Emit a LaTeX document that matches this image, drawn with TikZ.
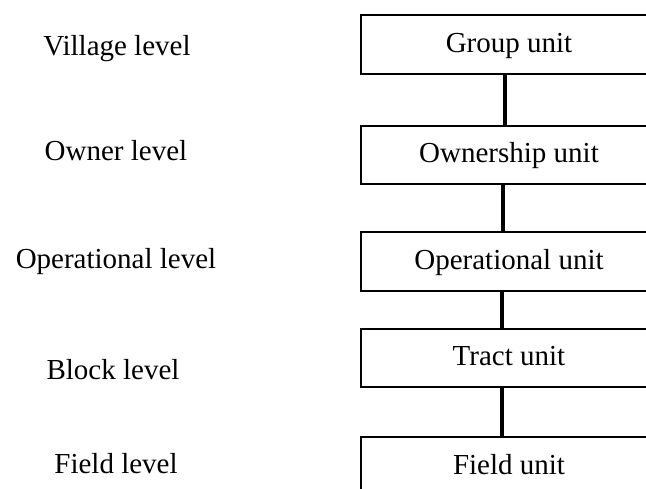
\documentclass[tikz,border=0pt]{standalone}
\usepackage{fontspec}
\setmainfont{Liberation Serif}
\begin{document}
\begin{tikzpicture}[x=1pt,y=-1pt,
  unitbox/.style={draw, line width=1.2pt, minimum width=296pt, minimum height=58pt,
    inner sep=0pt, text height=20pt, text depth=4pt,
    font=\fontsize{29}{34}\selectfont},
  levellabel/.style={anchor=base, inner sep=0pt, font=\fontsize{29}{34}\selectfont},
  link/.style={line width=3.5pt}]
\useasboundingbox (0,0) rectangle (646,489);
\clip (0,0) rectangle (646,489);

% hierarchy of units
\node[unitbox, minimum height=59pt] (group) at (509,44.5) {Group unit};
\node[unitbox] (owner) at (509,155) {Ownership unit};
\node[unitbox, minimum height=59pt] (oper) at (509,261.5) {Operational unit};
\node[unitbox] (tract) at (509,358) {Tract unit};
\node[unitbox] (field) at (509,466) {Field unit};

% connectors between successive units
\draw[link] ([xshift=-4pt]group.south) -- ([xshift=-4pt]owner.north);
\draw[link] ([xshift=-6pt]owner.south) -- ([xshift=-6pt]oper.north);
\draw[link] ([xshift=-7pt]oper.south) -- ([xshift=-7pt]tract.north);
\draw[link] ([xshift=-7pt]tract.south) -- ([xshift=-7pt]field.north);

% level names
\node[levellabel] (lvillage) at (117,56) {Village level};
\node[levellabel] (lowner) at (116,161) {Owner level};
\node[levellabel] (loper) at (116,269) {Operational level};
\node[levellabel] (lblock) at (113,380) {Block level};
\node[levellabel] (lfield) at (116,473) {Field level};
\end{tikzpicture}
\end{document}
